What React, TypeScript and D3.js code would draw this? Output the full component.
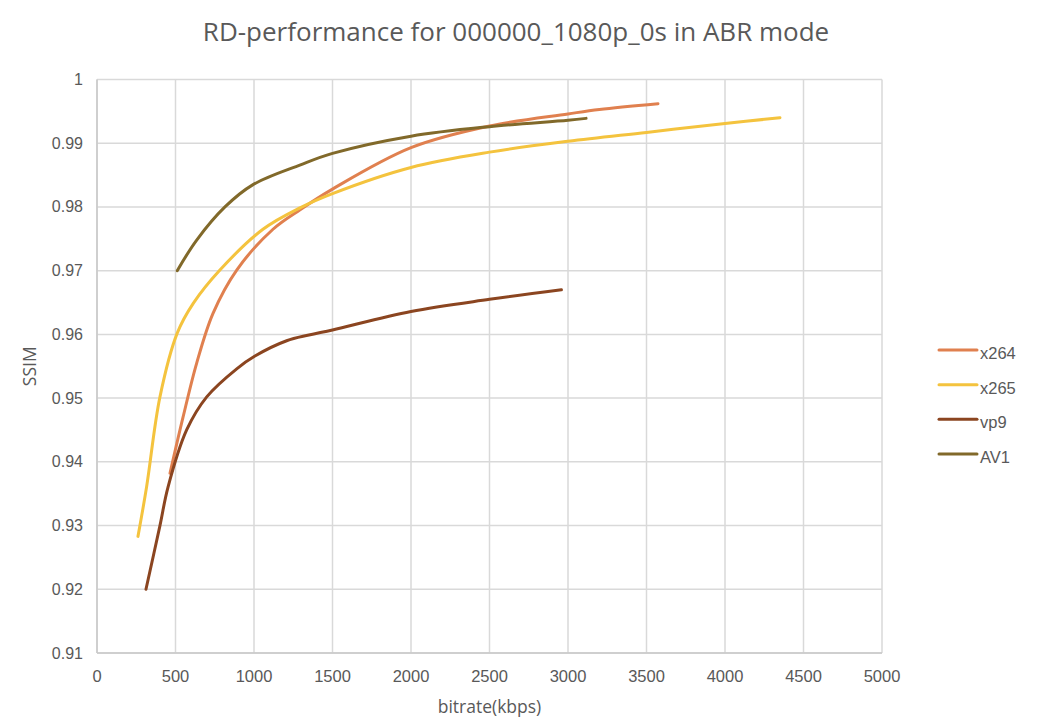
import * as React from 'react';
import * as d3 from 'd3';

// values: bitrate (kbps) / SSIM
const x264Rate = [465, 548, 635, 739, 890, 1121, 1296, 1500, 2000, 2500, 3000, 3200, 3573];
const x264Ssim = [0.9382, 0.947, 0.9555, 0.9633, 0.9701, 0.9765, 0.9796, 0.9828, 0.9893, 0.9927, 0.9946, 0.9953, 0.9962];

const x265Rate = [261, 316, 401, 511, 614, 783, 1057, 1296, 1500, 2000, 2500, 3000, 3500, 4000, 4350];
const x265Ssim = [0.9283, 0.9361, 0.9502, 0.9602, 0.9649, 0.9701, 0.9765, 0.9799, 0.9821, 0.9862, 0.9886, 0.9903, 0.9917, 0.9931, 0.994];

const vp9Rate = [312, 401, 452, 571, 699, 890, 1006, 1208, 1350, 1500, 2000, 2500, 2958];
const vp9Ssim = [0.92, 0.93, 0.936, 0.945, 0.9502, 0.9546, 0.9566, 0.959, 0.9599, 0.9607, 0.9636, 0.9655, 0.967];

const av1Rate = [511, 635, 815, 994, 1296, 1500, 2000, 2500, 3000, 3115];
const av1Ssim = [0.97, 0.9748, 0.98, 0.9835, 0.9866, 0.9884, 0.9911, 0.9926, 0.9936, 0.9939];

const seriesNames = ['x264', 'x265', 'vp9', 'AV1'];
const seriesColors = ['#E0804F', '#F4C33E', '#8B4520', '#81692A'];

const xTicks = [0, 500, 1000, 1500, 2000, 2500, 3000, 3500, 4000, 4500, 5000];
const yTicks = [0.91, 0.92, 0.93, 0.94, 0.95, 0.96, 0.97, 0.98, 0.99, 1];

const W = 1040;
const H = 728;
const m = {left: 97, right: 158, top: 79.5, bottom: 75};

const titleFont = '"Open Sans", "Noto Sans", sans-serif';
const tickFont = '"Liberation Sans", Arial, sans-serif';
const ink = '#595959';

export default function App() {
  const x = d3.scaleLinear().domain([0, 5000]).range([m.left, W - m.right]);
  const y = d3.scaleLinear().domain([0.91, 1]).range([H - m.bottom, m.top]);

  const series = [
    {rate: x264Rate, ssim: x264Ssim},
    {rate: x265Rate, ssim: x265Ssim},
    {rate: vp9Rate, ssim: vp9Ssim},
    {rate: av1Rate, ssim: av1Ssim},
  ];

  const line = d3.line<[number, number]>()
    .x(d => x(d[0]))
    .y(d => y(d[1]))
    .curve(d3.curveCatmullRom.alpha(0.5));

  const legendY = d3.scalePoint<string>().domain(seriesNames).range([350, 454]);

  return (
    <div style={{position: 'absolute', left: 0, top: 0}}>
      <svg width={W} height={H} style={{display: 'block', background: '#fff'}}>
        <text x={516} y={41} textAnchor="middle" fontFamily={titleFont} fontSize={26} fill={ink}>
          RD-performance for 000000_1080p_0s in ABR mode
        </text>

        {/* grid */}
        {yTicks.map(t => (
          <line key={'gy' + t} x1={x(0)} x2={x(5000)} y1={y(t)} y2={y(t)} stroke="#d9d9d9" strokeWidth={1.5} />
        ))}
        {xTicks.map(t => (
          <line key={'gx' + t} x1={x(t)} x2={x(t)} y1={y(0.91)} y2={y(1)} stroke="#d9d9d9" strokeWidth={1.5} />
        ))}
        <line x1={x(0)} x2={x(0)} y1={y(0.91)} y2={y(1)} stroke="#c8c8c8" strokeWidth={1.5} />
        <line x1={x(0)} x2={x(5000)} y1={y(0.91)} y2={y(0.91)} stroke="#c8c8c8" strokeWidth={1.5} />

        {/* tick labels */}
        {yTicks.map(t => (
          <text key={'ty' + t} x={83} y={y(t) + 5.5} textAnchor="end" fontFamily={tickFont} fontSize={16} fill={ink}>
            {t === 1 ? '1' : d3.format('.2f')(t)}
          </text>
        ))}
        {xTicks.map(t => (
          <text key={'tx' + t} x={x(t)} y={682} textAnchor="middle" fontFamily={tickFont} fontSize={16.5} fill={ink}>
            {t}
          </text>
        ))}

        <text x={(x(0) + x(5000)) / 2} y={713} textAnchor="middle" fontFamily={titleFont} fontSize={17.5} fill={ink}>
          bitrate(kbps)
        </text>
        <text transform={`translate(36,${(y(0.91) + y(1)) / 2}) rotate(-90)`} textAnchor="middle" fontFamily={titleFont} fontSize={17.5} fill={ink}>
          SSIM
        </text>

        {/* lines */}
        {series.map((s, i) => (
          <path
            key={seriesNames[i]}
            d={line(s.rate.map((r, j) => [r, s.ssim[j]] as [number, number])) || ''}
            fill="none"
            stroke={seriesColors[i]}
            strokeWidth={3}
            strokeLinecap="round"
          />
        ))}

        {/* legend */}
        {seriesNames.map((n, i) => (
          <g key={'lg' + n}>
            <line x1={939} x2={977} y1={legendY(n)} y2={legendY(n)} stroke={seriesColors[i]} strokeWidth={3} strokeLinecap="round" />
            <text x={980} y={(legendY(n) as number) + 9} fontFamily={tickFont} fontSize={16.5} fill={ink}>{n}</text>
          </g>
        ))}
      </svg>
    </div>
  );
}
